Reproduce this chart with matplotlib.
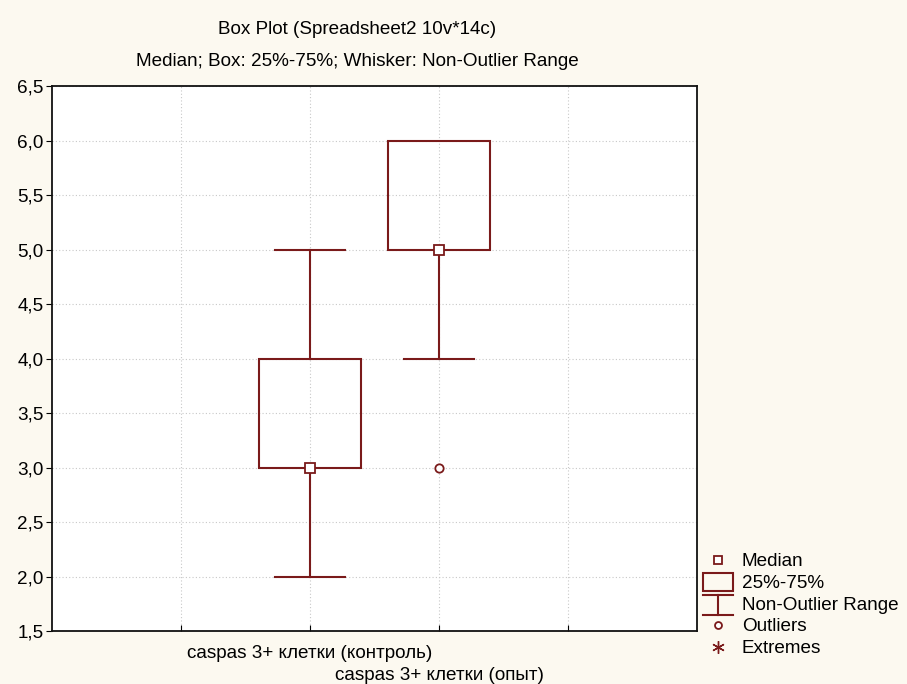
import matplotlib
matplotlib.use("Agg")
import matplotlib.pyplot as plt
from matplotlib.lines import Line2D
from matplotlib.patches import Rectangle
from matplotlib.legend_handler import HandlerBase

plt.rcParams['font.family'] = ['Liberation Sans', 'DejaVu Sans']

categories = ["caspas 3+ клетки (контроль)", "caspas 3+ клетки (опыт)"]
positions = [2, 3]
medians = [3.0, 5.0]
q1 = [3.0, 5.0]
q3 = [4.0, 6.0]
whisk_low = [2.0, 4.0]
whisk_high = [5.0, 6.0]
outliers = [[], [3.0]]
yticks = [1.5, 2.0, 2.5, 3.0, 3.5, 4.0, 4.5, 5.0, 5.5, 6.0, 6.5]

C = '#7a1a1a'
BG = '#fcf9f0'
FS = 13.6

fig = plt.figure(figsize=(9.07, 6.84), dpi=100, facecolor=BG)
W, H = 907, 684
L, R, T, B = 52, 697, 86, 631
ax = fig.add_axes([L / W, 1 - B / H, (R - L) / W, (B - T) / H])
ax.set_facecolor('white')

bw = 0.79
cw = 0.55
for i, p in enumerate(positions):
    ax.add_patch(Rectangle((p - bw / 2, q1[i]), bw, q3[i] - q1[i], fill=False,
                           edgecolor=C, lw=1.5, zorder=3))
    ax.plot([p, p], [q3[i], whisk_high[i]], color=C, lw=1.5, zorder=3)
    ax.plot([p, p], [whisk_low[i], q1[i]], color=C, lw=1.5, zorder=3)
    if whisk_high[i] > q3[i]:
        ax.plot([p - cw / 2, p + cw / 2], [whisk_high[i]] * 2, color=C, lw=1.5, zorder=3)
    if whisk_low[i] < q1[i]:
        ax.plot([p - cw / 2, p + cw / 2], [whisk_low[i]] * 2, color=C, lw=1.5, zorder=3)
    ax.plot([p], [medians[i]], marker='s', ms=7, mfc='white', mec=C, mew=1.3, zorder=4)
    if outliers[i]:
        ax.plot([p] * len(outliers[i]), outliers[i], 'o', ms=6, mfc='white', mec=C,
                mew=1.3, zorder=4, linestyle='none')

ax.set_xlim(0, 5)
ax.set_ylim(1.5, 6.5)
ax.set_yticks(yticks)
ax.set_yticklabels([f"{v:.1f}".replace('.', ',') for v in yticks], fontsize=FS)
ax.set_xticks([1, 2, 3, 4])
ax.set_xticklabels(['', '', '', ''])
ax.grid(True, color='#c8c8c8', linestyle=(0, (1, 2)), lw=0.8)
ax.set_axisbelow(True)
for s in ax.spines.values():
    s.set_linewidth(1.3)
    s.set_color('#111111')
ax.tick_params(axis='x', direction='in', length=4)
ax.tick_params(axis='y', direction='out', length=4, pad=2)

# staggered category labels
for i, (p, c) in enumerate(zip(positions, categories)):
    ax.annotate(c, xy=(p, 0), xycoords=('data', 'axes fraction'),
                xytext=(0, -22 - 22 * i), textcoords='offset pixels',
                ha='center', va='center', fontsize=FS)

fig.text(357 / W, 1 - 30 / H, "Box Plot (Spreadsheet2 10v*14c)", ha='center', va='center', fontsize=FS)
fig.text(357 / W, 1 - 62 / H, "Median; Box: 25%-75%; Whisker: Non-Outlier Range", ha='center', va='center', fontsize=FS)


class BoxHandler(HandlerBase):
    def create_artists(self, legend, orig, xd, yd, width, height, fontsize, trans):
        r = Rectangle((xd, yd - 2), width, height + 3, fill=False, edgecolor=C, lw=1.5, transform=trans)
        return [r]


class WhiskHandler(HandlerBase):
    def create_artists(self, legend, orig, xd, yd, width, height, fontsize, trans):
        cx = xd + width / 2
        a = Line2D([xd, xd + width], [yd + height + 1] * 2, color=C, lw=1.5, transform=trans)
        b = Line2D([cx, cx], [yd - 4, yd + height + 1], color=C, lw=1.5, transform=trans)
        c = Line2D([xd, xd + width], [yd - 4] * 2, color=C, lw=1.5, transform=trans)
        return [a, b, c]


h_med = Line2D([], [], marker='s', ms=6, mfc='white', mec=C, mew=1.3, linestyle='none')
h_box = Rectangle((0, 0), 1, 1)
h_wh = object()
h_out = Line2D([], [], marker='o', ms=5, mfc='white', mec=C, mew=1.3, linestyle='none')
h_ext = Line2D([], [], marker=(6, 2, 0), ms=9, mew=1.0, color=C, linestyle='none')

leg = fig.legend([h_med, h_box, h_wh, h_out, h_ext],
                 ["Median", "25%-75%", "Non-Outlier Range", "Outliers", "Extremes"],
                 handler_map={Rectangle: BoxHandler(), object: WhiskHandler()},
                 loc='upper left', bbox_to_anchor=(703 / W, 1 - 553 / H),
                 frameon=False, fontsize=FS, handlelength=1.6, handletextpad=0.45,
                 labelspacing=0.24, borderpad=0, borderaxespad=0)

fig.savefig('out.png', dpi=100, facecolor=BG)
